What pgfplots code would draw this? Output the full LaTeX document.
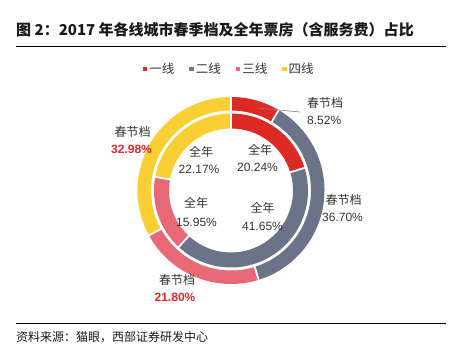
\documentclass[border=0pt]{standalone}
\usepackage{pgfplots}
\pgfplotsset{compat=1.18}
\usepackage{pgfplotstable}
\usepackage{fontspec}
\setmainfont{Liberation Sans}
\newfontfamily\cjk{Noto Sans CJK SC}
\definecolor{c0}{HTML}{DD2A24}
\definecolor{c1}{HTML}{6B7389}
\definecolor{c2}{HTML}{E86878}
\definecolor{c3}{HTML}{F9CF33}
\definecolor{txt}{HTML}{333333}
\definecolor{hl}{HTML}{E8262A}

% share of box office (%): spring festival (outer ring), full year (inner ring)
\pgfplotstableread{
tier spring year
1 8.52 20.24
2 36.70 41.65
3 21.80 15.95
4 32.98 22.17
}\share

\def\cx{231}
\def\cy{165.5}
\newcommand\slice[5]{% color, a0, a1, rin, rout
  \pgfmathsetmacro\xa{\cx+#5*cos(#2)}%
  \pgfmathsetmacro\ya{\cy+#5*sin(#2)}%
  \pgfmathsetmacro\xb{\cx+#4*cos(#3)}%
  \pgfmathsetmacro\yb{\cy+#4*sin(#3)}%
  \edef\temp{\noexpand\fill[#1] (axis cs:\xa,\ya) arc[start angle=#2, end angle=#3, radius=#5pt] -- (axis cs:\xb,\yb) arc[start angle=#3, end angle=#2, radius=#4pt] -- cycle;}%
  \temp
}
\newcommand\sep[3]{% angle, rin, rout
  \pgfmathsetmacro\xa{\cx+(#2-1)*cos(#1)}%
  \pgfmathsetmacro\ya{\cy+(#2-1)*sin(#1)}%
  \pgfmathsetmacro\xb{\cx+(#3+1)*cos(#1)}%
  \pgfmathsetmacro\yb{\cy+(#3+1)*sin(#1)}%
  \edef\temp{\noexpand\draw[white, line width=1.8pt] (axis cs:\xa,\ya) -- (axis cs:\xb,\yb);}%
  \temp
}

\begin{document}
\begin{tikzpicture}
\begin{axis}[
  x=1pt, y=1pt,
  xmin=0, xmax=470, ymin=0, ymax=356,
  enlargelimits=false,
  hide axis, clip=false,
  legend columns=-1,
  legend image code/.code={\fill[#1] (0pt,-2.2pt) rectangle (4.4pt,2.2pt);},
  legend style={at={(axis description cs:0.488,0.806)}, anchor=center,
    draw=none, fill=none, font=\cjk\fontsize{12.5}{14}\selectfont, text=txt,
    /tikz/every even column/.append style={column sep=13pt},
    /tikz/every odd column/.append style={column sep=0pt}},
]
\path (axis cs:0,0) rectangle (axis cs:470,356);

% outer ring: spring festival
\def\astart{90}
\pgfplotsforeachungrouped \i in {0,1,2,3}{%
  \pgfplotstablegetelem{\i}{spring}\of\share
  \pgfmathsetmacro\aend{\astart-3.6*\pgfplotsretval}%
  \slice{c\i}{\astart}{\aend}{80}{93.5}%
  \let\astart\aend
}
% inner ring: full year
\def\astart{90}
\pgfplotsforeachungrouped \i in {0,1,2,3}{%
  \pgfplotstablegetelem{\i}{year}\of\share
  \pgfmathsetmacro\aend{\astart-3.6*\pgfplotsretval}%
  \slice{c\i}{\astart}{\aend}{62}{77}%
  \let\astart\aend
}
% separators
\def\astart{90}
\pgfplotsforeachungrouped \i in {0,1,2,3}{%
  \sep{\astart}{80}{93.5}%
  \pgfplotstablegetelem{\i}{spring}\of\share
  \pgfmathsetmacro\aend{\astart-3.6*\pgfplotsretval}%
  \let\astart\aend
}
\def\astart{90}
\pgfplotsforeachungrouped \i in {0,1,2,3}{%
  \sep{\astart}{62}{77}%
  \pgfplotstablegetelem{\i}{year}\of\share
  \pgfmathsetmacro\aend{\astart-3.6*\pgfplotsretval}%
  \let\astart\aend
}

\addlegendimage{fill=c0, draw=none}\addlegendentry{一线}
\addlegendimage{fill=c1, draw=none}\addlegendentry{二线}
\addlegendimage{fill=c2, draw=none}\addlegendentry{三线}
\addlegendimage{fill=c3, draw=none}\addlegendentry{四线}

% leader line
\draw[gray, line width=0.6pt] (axis cs:257,248) -- (axis cs:300,244);

\begin{scope}[every node/.style={inner sep=0pt, text=txt, font=\fontsize{12}{14}\selectfont}]
% outer labels
\node[anchor=west] at (axis cs:307,252.7) {\cjk 春节档};
\node[anchor=west] at (axis cs:307,236) {8.52\%};
\node at (axis cs:343.5,156) {\cjk 春节档};
\node at (axis cs:342.5,139) {36.70\%};
\node at (axis cs:177,76) {\cjk 春节档};
\node[text=hl, font=\fontsize{12}{14}\selectfont\bfseries] at (axis cs:175,59) {21.80\%};
\node at (axis cs:132.5,224) {\cjk 春节档};
\node[text=hl, font=\fontsize{12}{14}\selectfont\bfseries] at (axis cs:131.5,207) {32.98\%};
% inner labels
\node at (axis cs:260,206) {\cjk 全年};
\node at (axis cs:257.5,189) {20.24\%};
\node at (axis cs:201,204) {\cjk 全年};
\node at (axis cs:199,187) {22.17\%};
\node at (axis cs:196,153) {\cjk 全年};
\node at (axis cs:196.5,134) {15.95\%};
\node at (axis cs:262.5,148) {\cjk 全年};
\node at (axis cs:262.5,130) {41.65\%};
\end{scope}

% title, rules, source
\node[anchor=west, inner sep=0pt, font=\cjk\bfseries\fontsize{15}{17}\selectfont, text=black!90] at (axis cs:16,326) {图 2：2017 年各线城市春季档及全年票房（含服务费）占比};
\draw[black, line width=0.9pt] (axis cs:16,310) -- (axis cs:446,310);
\draw[black, line width=0.9pt] (axis cs:16,33) -- (axis cs:446,33);
\node[anchor=west, inner sep=0pt, font=\cjk\fontsize{12}{14}\selectfont, text=black!90] at (axis cs:16,19) {资料来源：猫眼，西部证券研发中心};
\end{axis}
\end{tikzpicture}
\end{document}
